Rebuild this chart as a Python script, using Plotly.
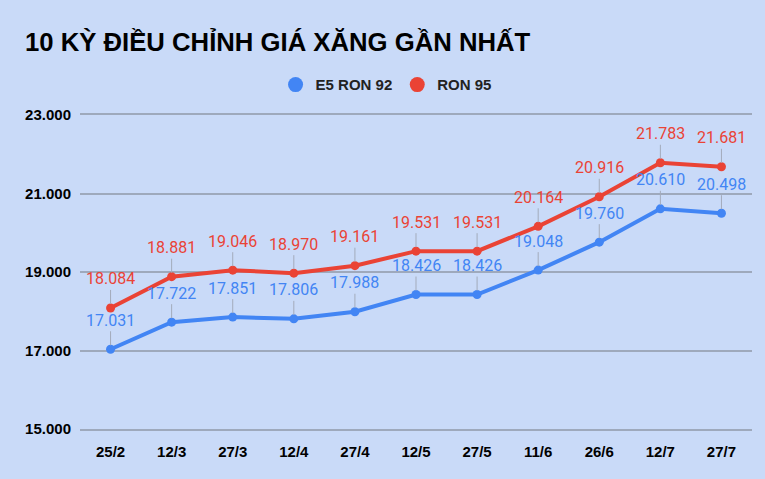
import plotly.graph_objects as go

# giá xăng (đồng/lít), 10 kỳ điều chỉnh gần nhất
dates = ["25/2", "12/3", "27/3", "12/4", "27/4", "12/5", "27/5", "11/6", "26/6", "12/7", "27/7"]
e5_ron92 = [17031, 17722, 17851, 17806, 17988, 18426, 18426, 19048, 19760, 20610, 20498]
ron95 = [18084, 18881, 19046, 18970, 19161, 19531, 19531, 20164, 20916, 21783, 21681]

BG = "#c9daf8"
GRID = "#9ea9bc"
BLUE = "#4285f4"
RED = "#ea4335"
BOLD = "Liberation Sans, Arial, sans-serif"
LABEL_FONT = "Roboto, sans-serif"

series = [("E5 RON 92", e5_ron92, BLUE), ("RON 95", ron95, RED)]

fig = go.Figure()

for name, vals, color in series:
    fig.add_trace(go.Scatter(
        x=dates, y=vals, name=name, mode="lines+markers",
        line=dict(color=color, width=4),
        marker=dict(color=color, size=9),
        showlegend=False, hoverinfo="x+y",
    ))

# legend chỉ hiện chấm tròn
for name, vals, color in series:
    fig.add_trace(go.Scatter(
        x=[None], y=[None], name=name, mode="markers",
        marker=dict(color=color, size=15),
    ))

# nhãn số liệu kèm đường dẫn mảnh
for name, vals, color in series:
    for d, v in zip(dates, vals):
        fig.add_annotation(
            x=d, y=v, text=f"{v:,}".replace(",", "."),
            showarrow=True, arrowhead=0, arrowwidth=1, arrowcolor="#a3abbb",
            ax=0, ay=-29, standoff=4,
            font=dict(family=LABEL_FONT, size=16, color=color),
        )

fig.update_layout(
    width=765, height=479,
    paper_bgcolor=BG, plot_bgcolor=BG,
    margin=dict(l=80, r=13, t=115, b=50),
    separators=",.",
    title=dict(
        text="<b>10 KỲ ĐIỀU CHỈNH GIÁ XĂNG GẦN NHẤT</b>",
        x=25 / 765, xanchor="left", xref="container",
        y=1 - 42 / 479, yanchor="middle", yref="container",
        font=dict(family=BOLD, size=25.7, color="#000"),
    ),
    legend=dict(
        orientation="h", x=0.291, xanchor="left", y=1.096, yanchor="middle",
        font=dict(family=BOLD, size=15, color="#222", weight="bold"),
        bgcolor="rgba(0,0,0,0)",
    ),
    showlegend=True,
)

fig.update_xaxes(
    type="category", range=[-0.5, 10.5], showgrid=False, zeroline=False,
    showline=True, mirror=True, linecolor=GRID, linewidth=1.5,
    tickfont=dict(family=BOLD, size=15, color="#000", weight="bold"),
    ticklabelstandoff=8,
)
fig.update_yaxes(
    range=[15000, 23000], tick0=15000, dtick=2000, tickformat=",d",
    showgrid=True, gridcolor=GRID, gridwidth=1.5, zeroline=False,
    tickfont=dict(family=BOLD, size=15, color="#000", weight="bold"),
    ticklabelstandoff=8,
)

# bỏ lề mặc định của body để hình nằm đúng góc trang
fig.write_html(
    "out.html",
    config={"displayModeBar": False},
    post_script="document.body.style.margin='0';",
)
